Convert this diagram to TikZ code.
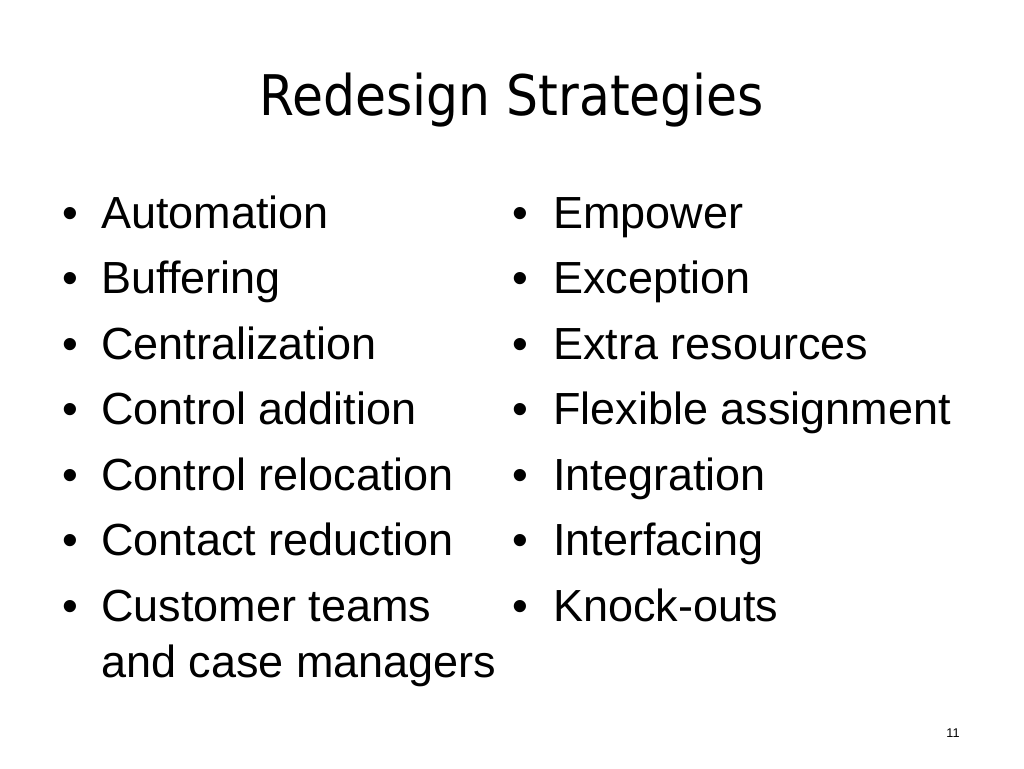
\documentclass[tikz,border=0pt]{standalone}
\usepackage{fontspec}
\setmainfont{Liberation Sans}
\newfontfamily\titlefont[FakeStretch=0.9]{DejaVu Sans}

\begin{document}
\begin{tikzpicture}[x=0.75pt,y=-0.75pt,
  item/.style={anchor=base west,inner sep=0pt,font=\fontsize{33.75}{41}\selectfont},
  dot/.style={anchor=base,inner sep=0pt,font=\fontsize{33.75}{41}\selectfont}]
  \useasboundingbox[fill=white] (0,0) rectangle (1024,768);
  \node[anchor=base,inner sep=0pt,font=\titlefont\fontsize{42}{50}\selectfont]
    (title) at (512,115) {Redesign Strategies};
  % left column
  \foreach \t [count=\i] in {Automation,Buffering,Centralization,Control addition,
      Control relocation,Contact reduction,Customer teams}
  {
    \node[dot]  (l_dot\i) at (70,162.5+65.5*\i) {•};
    \node[item] (l_\i)    at (101,162.5+65.5*\i) {\t};
  }
  \node[item] (l_7b) at (101,677) {and case managers};
  % right column
  \foreach \t [count=\i] in {Empower,Exception,Extra resources,Flexible assignment,
      Integration,Interfacing,Knock-outs}
  {
    \node[dot]  (r_dot\i) at (520,162.5+65.5*\i) {•};
    \node[item] (r_\i)    at (553,162.5+65.5*\i) {\t};
  }
  \node[anchor=base,inner sep=0pt,font=\fontsize{9.5}{11}\selectfont]
    (page) at (953,737) {11};
\end{tikzpicture}
\end{document}
